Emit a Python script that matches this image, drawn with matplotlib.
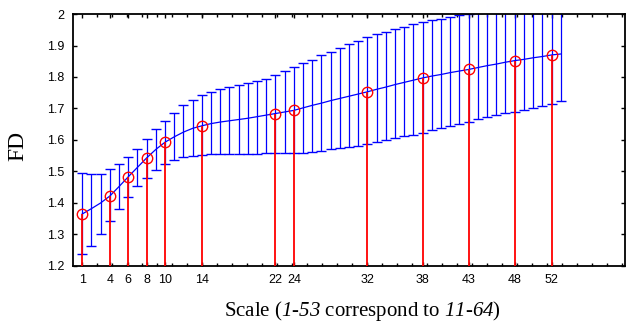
import numpy as np
import matplotlib.pyplot as plt
from matplotlib.ticker import FormatStrFormatter

# курсив для цифр в подписи оси x (через sf, чтобы цифры не становились прямыми)
plt.rcParams['mathtext.fontset'] = 'custom'
plt.rcParams['mathtext.rm'] = 'Liberation Serif'
plt.rcParams['mathtext.sf'] = 'Liberation Serif:italic'

# Данные: масштаб 1..53, среднее FD и границы разброса
scales = np.arange(1, 54)
fd_mean = [1.365, 1.382, 1.400, 1.422, 1.452, 1.483, 1.513, 1.543, 1.570, 1.593,
           1.610, 1.625, 1.637, 1.645, 1.652, 1.657, 1.661, 1.665, 1.669, 1.674,
           1.679, 1.684, 1.689, 1.694, 1.702, 1.710, 1.717, 1.725, 1.732, 1.739,
           1.746, 1.753, 1.761, 1.768, 1.776, 1.783, 1.790, 1.797, 1.803, 1.808,
           1.814, 1.819, 1.824, 1.830, 1.836, 1.841, 1.847, 1.852, 1.856, 1.861,
           1.865, 1.870, 1.873]
fd_upper = [1.496, 1.493, 1.493, 1.507, 1.523, 1.547, 1.572, 1.602, 1.634, 1.659,
            1.687, 1.710, 1.727, 1.744, 1.753, 1.763, 1.769, 1.776, 1.782, 1.788,
            1.795, 1.806, 1.818, 1.832, 1.843, 1.855, 1.870, 1.880, 1.891, 1.905,
            1.915, 1.926, 1.935, 1.944, 1.951, 1.960, 1.968, 1.974, 1.981, 1.985,
            1.992, 1.997, 2.000, 2.004, 2.006, 2.008, 2.010, 2.012, 2.014, 2.016,
            2.018, 2.022, 2.025]
fd_lower = [1.238, 1.264, 1.302, 1.342, 1.382, 1.420, 1.453, 1.479, 1.504, 1.523,
            1.537, 1.545, 1.550, 1.553, 1.554, 1.555, 1.556, 1.556, 1.557, 1.557,
            1.558, 1.558, 1.558, 1.559, 1.560, 1.563, 1.566, 1.571, 1.576, 1.579,
            1.582, 1.587, 1.595, 1.601, 1.606, 1.613, 1.617, 1.623, 1.632, 1.638,
            1.644, 1.651, 1.658, 1.666, 1.672, 1.678, 1.685, 1.690, 1.695, 1.701,
            1.708, 1.714, 1.725]

# Выбранные масштабы (красные)
selected = [1, 4, 6, 8, 10, 14, 22, 24, 32, 38, 43, 48, 52]
tick_labels = ['1', '4', '6', '8', '10', '14', '22', '24', '32', '38', '43', '48', '52']

fd_mean = np.array(fd_mean)
err = [fd_mean - np.array(fd_lower), np.array(fd_upper) - fd_mean]
sel_vals = fd_mean[np.array(selected) - 1]

fig = plt.figure(figsize=(6.26, 3.22), dpi=100)
ax = fig.add_axes([0.1166, 0.174, 0.882, 0.7825])

eb = ax.errorbar(scales, fd_mean, yerr=err, color='blue', lw=0.9,
                 elinewidth=0.9, capsize=3.8, capthick=1.0, zorder=2)
for cl in eb[1]:
    cl.set_color('#7878ff')

ymin = 1.2
ax.vlines(selected, ymin, sel_vals, color='red', lw=1.3, zorder=3)
ax.plot(selected, sel_vals, 'o', mfc='none', mec='red', ms=7.5, mew=1.0, zorder=4)

ax.set_xlim(0, 60)
ax.set_ylim(1.2, 2.0)
ax.set_xticks(selected)
ax.set_xticklabels(tick_labels)
ax.set_xticks(np.arange(1, 60, 1.63), minor=True)
ax.set_yticks(np.arange(1.2, 2.01, 0.1))
ax.yaxis.set_major_formatter(FormatStrFormatter('%g'))

ax.tick_params(which='both', direction='in', top=True, right=True,
               length=3, width=1.0, labelsize=9, pad=6)
ax.tick_params(which='minor', length=2)
for lab in ax.get_xticklabels() + ax.get_yticklabels():
    lab.set_family('Liberation Sans')
for sp in ax.spines.values():
    sp.set_linewidth(1.3)

ax.set_ylabel('FD', family='Liberation Serif', fontsize=17)
ax.set_xlabel(r'Scale ($\mathsf{1}$-$\mathsf{53}$ correspond to $\mathsf{11}$-$\mathsf{64}$)',
              family='Liberation Serif', fontsize=15)
ax.yaxis.set_label_coords(-0.08, 0.476)
ax.xaxis.set_label_coords(0.524, -0.13)

fig.savefig('out.png', dpi=100)
